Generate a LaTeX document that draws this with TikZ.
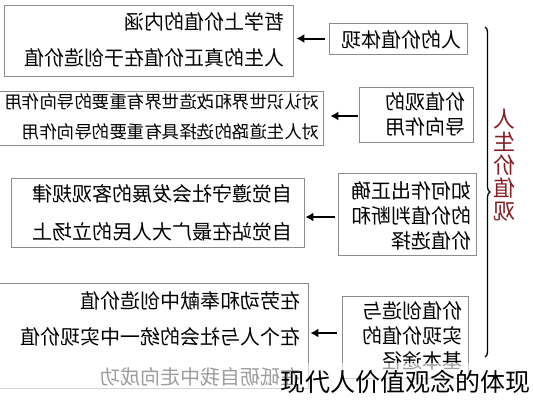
\documentclass[tikz,border=0pt]{standalone}
\usepackage{graphicx}
\usepackage{fontspec}
\setmainfont{Noto Sans CJK SC}
\usetikzlibrary{arrows.meta}
\usetikzlibrary{decorations.pathreplacing}

\definecolor{boxgray}{RGB}{140,140,140}
\definecolor{titlered}{RGB}{135,30,35}
\newcommand{\flipx}[1]{\reflectbox{#1}}

\begin{document}
\begin{tikzpicture}[x=1pt,y=-1pt,
  box/.style={draw=boxgray, line width=0.7pt, inner sep=0pt},
  line/.style={anchor=east, inner sep=0pt, font=\fontsize{20}{24}\selectfont},
  longline/.style={anchor=east, inner sep=0pt, font=\fontsize{17.5}{21}\selectfont},
  tag/.style={anchor=east, inner sep=0pt, align=right, font=\fontsize{20}{25}\selectfont},
  arr/.style={-{Latex[length=8pt,width=9pt]}, line width=2pt}]
\useasboundingbox (0,0) rectangle (533,400);

% left boxes
\node[box, minimum width=289pt, minimum height=71pt] (hanyi) at (148.5,40.5) {};
\node[line] (hanyi1) at (285,22) {\flipx{哲学上价值的内涵}};
\node[line] (hanyi2) at (285,58) {\flipx{人生的真正价值在于创造价值}};

\node[box, minimum width=324pt, minimum height=54pt] (zuoyong) at (161,118) {};
\node[longline] (zuoyong1) at (320,102) {\flipx{对认识世界和改造世界有重要的导向作用}};
\node[longline] (zuoyong2) at (320,132) {\flipx{对人生道路的选择具有重要的导向作用}};

\node[box, minimum width=293pt, minimum height=69pt] (zijue) at (157.5,212.5) {};
\node[line] (zijue1) at (293,194) {\flipx{自觉遵守社会发展的客观规律}};
\node[line] (zijue2) at (293,232) {\flipx{自觉站在最广大人民的立场上}};

\node[box, minimum width=310pt, minimum height=105pt] (tujing) at (153,335.5) {};
\node[line] (tujing1) at (301,301) {\flipx{在劳动和奉献中创造价值}};
\node[line] (tujing2) at (301,337) {\flipx{在个人与社会的统一中实现价值}};
\node[line] (tujing3) at (301,377) {\flipx{在砥砺自我中走向成功}};

% right boxes
\node[box, minimum width=138pt, minimum height=31pt] (tixian) at (398,38.5) {};
\node[tag] at (462,40) {\flipx{人的价值体现}};

\node[box, minimum width=114pt, minimum height=55pt] (daoxiang) at (416,114.5) {};
\node[tag] at (466,114) {\flipx{价值观的}\\\flipx{导向作用}};

\node[box, minimum width=138pt, minimum height=82pt] (panduan) at (407,214) {};
\node[tag] at (472,215.5) {\flipx{如何作出正确}\\\flipx{的价值判断和}\\\flipx{价值选择}};

\node[box, minimum width=126pt, minimum height=82pt] (chuangzao) at (405,337) {};
\node[tag] at (463,335.5) {\flipx{价值创造与}\\\flipx{实现价值的}\\\flipx{基本途径}};

% arrows
\draw[arr, shorten <=4pt, shorten >=3pt] (tixian.west) -- (tixian.west -| hanyi.east);
\draw[arr, shorten <=1pt, shorten >=7pt] ([yshift=-1.5pt]daoxiang.west) -- ([yshift=-1.5pt]daoxiang.west -| zuoyong.east);
\draw[arr, shorten <=3pt, shorten >=1pt] ([yshift=-3pt]panduan.west) -- ([yshift=-3pt]panduan.west -| zijue.east);
\draw[arr, shorten <=5pt, shorten >=2pt] ([yshift=4pt]chuangzao.west) -- ([yshift=4pt]chuangzao.west -| tujing.east);

% brace and title
\coordinate (bracetop) at (485,27);
\coordinate (bracebot) at (485,357);
\draw[decorate, decoration={brace, amplitude=5pt}, line width=1.3pt] (bracetop) -- (bracebot);
\node[text=titlered, align=center, inner sep=0pt, font=\fontsize{22}{23}\selectfont] (title) at (504,165)
  {\flipx{人}\\\flipx{生}\\\flipx{价}\\\flipx{值}\\\flipx{观}};

% faded strip and caption
\fill[white, opacity=0.62] (0,363) rectangle (533,400);
\node[anchor=east, inner sep=0pt, font=\fontsize{25}{25}\selectfont] (caption) at (531,382) {现代人价值观念的体现};
\end{tikzpicture}
\end{document}
